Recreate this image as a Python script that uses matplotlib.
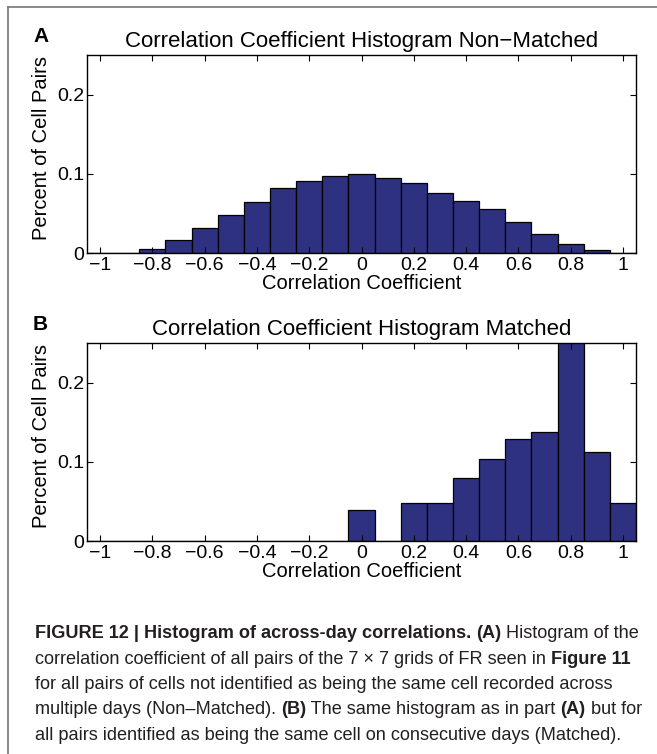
import numpy as np
import matplotlib
matplotlib.use("Agg")
import matplotlib.pyplot as plt
from matplotlib.lines import Line2D

plt.rcParams["font.family"] = ["Liberation Sans", "DejaVu Sans"]

# --- Data ---
bin_centers = [-1.0, -0.9, -0.8, -0.7, -0.6, -0.5, -0.4, -0.3, -0.2, -0.1, 0.0,
               0.1, 0.2, 0.3, 0.4, 0.5, 0.6, 0.7, 0.8, 0.9, 1.0]
non_matched = [0, 0, 0.0055, 0.017, 0.0315, 0.048, 0.064, 0.0815, 0.0915, 0.0975, 0.0995,
               0.0945, 0.0885, 0.0758, 0.066, 0.0555, 0.0395, 0.0244, 0.0115, 0.0036, 0]
matched = [0, 0, 0, 0, 0, 0, 0, 0, 0, 0, 0.039,
           0, 0.048, 0.048, 0.080, 0.104, 0.1285, 0.137, 0.29, 0.113, 0.048]

xticks = [-1, -0.8, -0.6, -0.4, -0.2, 0, 0.2, 0.4, 0.6, 0.8, 1]
xtick_labels = ["\u22121", "\u22120.8", "\u22120.6", "\u22120.4", "\u22120.2", "0",
                "0.2", "0.4", "0.6", "0.8", "1"]
yticks = [0, 0.1, 0.2]
ytick_labels = ["0", "0.1", "0.2"]

panels = [
    ("A", "Correlation Coefficient Histogram Non\u2212Matched", non_matched),
    ("B", "Correlation Coefficient Histogram Matched", matched),
]

BAR = "#2e3180"
TXT = "#231f20"
W, H = 657, 754
fig = plt.figure(figsize=(W / 100, H / 100), dpi=100)

# --- gray frame (top and left edges) ---
fig.add_artist(Line2D([8 / W, 1], [1 - 7 / H, 1 - 7 / H], color="#808080", lw=1.3))
fig.add_artist(Line2D([8 / W, 8 / W], [0, 1 - 7 / H], color="#808080", lw=1.3))

ax_boxes = [(87, 55, 636, 253), (87, 343, 636, 541)]

for (letter, title, vals), (l, t, r, b) in zip(panels, ax_boxes):
    ax = fig.add_axes([l / W, 1 - b / H, (r - l) / W, (b - t) / H])
    ax.bar(bin_centers, vals, width=0.1, color=BAR, edgecolor="black", linewidth=0.9)
    ax.set_xlim(-1.05, 1.05)
    ax.set_ylim(0, 0.25)
    ax.set_xticks(xticks)
    ax.set_xticklabels(xtick_labels)
    ax.set_yticks(yticks)
    ax.set_yticklabels(ytick_labels)
    ax.tick_params(direction="in", length=4, width=0.8, top=True, right=True,
                   labelsize=14, pad=3)
    ax.tick_params(axis="y", pad=2)
    for s in ax.spines.values():
        s.set_linewidth(1.0)
    ax.set_xlabel("Correlation Coefficient", fontsize=14.5, labelpad=0)
    ax.set_ylabel("Percent of Cell Pairs", fontsize=14.5)
    ax.yaxis.set_label_coords(-36 / (r - l), 0.53)
    ax.set_title(title, fontsize=16, pad=6)
    fig.text(33 / W, 1 - (t - 18) / H, letter, fontsize=15, fontweight="bold",
             ha="left", va="center")

# --- caption with mixed bold / regular runs ---
caption = [
    [("FIGURE 12 | Histogram of across-day correlations. ", "bold"),
     ("(A)", "bold"), (" Histogram of the", "normal")],
    [("correlation coefficient of all pairs of the 7 \u00d7 7 grids of FR seen in ", "normal"),
     ("Figure 11", "bold")],
    [("for all pairs of cells not identified as being the same cell recorded across", "normal")],
    [("multiple days (Non\u2013Matched). ", "normal"), ("(B)", "bold"),
     (" The same histogram as in part ", "normal"), ("(A)", "bold"), (" but for", "normal")],
    [("all pairs identified as being the same cell on consecutive days (Matched).", "normal")],
]
baselines = [638, 663.5, 689, 714.5, 740]
anchor_ax = fig.axes[0]

for runs, y in zip(caption, baselines):
    prev = None
    for txt, wt in runs:
        if prev is None:
            prev = fig.text(35 / W, 1 - y / H, txt, fontsize=13.1, fontweight=wt,
                            color=TXT, ha="left", va="baseline")
        else:
            # next run starts where the previous one ends
            prev = anchor_ax.annotate(txt, xy=(1, 0), xycoords=prev, fontsize=13.1,
                                      fontweight=wt, color=TXT, ha="left", va="bottom",
                                      annotation_clip=False)

fig.savefig("out.png", dpi=100)
